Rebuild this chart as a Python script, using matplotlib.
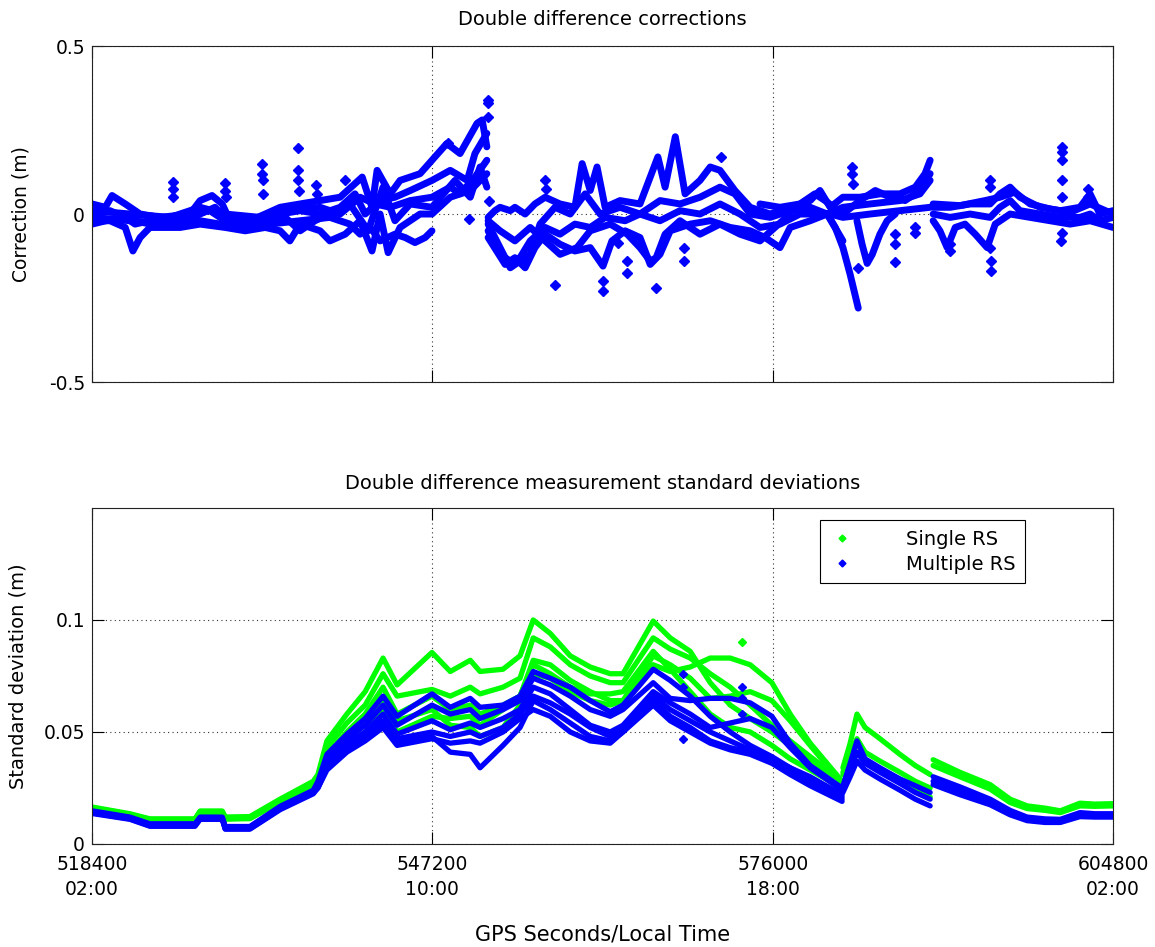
import numpy as np
import matplotlib
matplotlib.use("Agg")
import matplotlib.pyplot as plt
from matplotlib.lines import Line2D

plt.rcParams['font.family'] = ['DejaVu Sans']

GPS_START = 518400
XTICKS = [518400, 547200, 576000, 604800]
XTICK_LABELS = ["518400\n02:00", "547200\n10:00", "576000\n18:00", "604800\n02:00"]

# ---------------- Bottom panel data (hours of local time, metres) ----------------
H_A = [2.00, 2.89, 3.36, 4.42, 4.54, 5.06, 5.13, 5.71, 6.42, 7.20, 7.31, 7.52, 7.99, 8.42,
       8.84, 9.17, 9.99, 10.42, 10.89, 11.12, 11.66, 12.06, 12.37, 12.77, 13.24, 13.71,
       14.18, 14.48, 15.19, 15.59, 16.06, 16.53, 17.00, 17.47, 17.98, 18.41, 18.88, 19.63]

single_A1 = [0.0165, 0.0135, 0.0112, 0.0112, 0.0147, 0.0147, 0.0120, 0.0122, 0.0200, 0.0280,
             0.031, 0.046, 0.058, 0.068, 0.083, 0.071, 0.0855, 0.077, 0.082, 0.077, 0.078, 0.084,
             0.100, 0.094, 0.084, 0.079, 0.076, 0.076, 0.0995, 0.092, 0.086, 0.072, 0.062, 0.056,
             0.050, 0.044, 0.037, 0.028]
single_A2 = [0.0160, 0.0130, 0.0108, 0.0108, 0.0143, 0.0143, 0.0116, 0.0118, 0.0195, 0.0272,
             0.030, 0.043, 0.054, 0.062, 0.076, 0.066, 0.069, 0.066, 0.070, 0.067, 0.070, 0.074,
             0.092, 0.088, 0.080, 0.075, 0.072, 0.072, 0.092, 0.087, 0.083, 0.076, 0.070, 0.062,
             0.053, 0.046, 0.039, 0.028]
single_A3 = [0.0157, 0.0128, 0.0106, 0.0106, 0.0140, 0.0140, 0.0113, 0.0115, 0.0190, 0.0265,
             0.029, 0.040, 0.050, 0.058, 0.070, 0.058, 0.066, 0.060, 0.062, 0.058, 0.062, 0.066,
             0.082, 0.080, 0.073, 0.068, 0.064, 0.064, 0.080, 0.077, 0.079, 0.083, 0.083, 0.080,
             0.072, 0.058, 0.045, 0.028]
single_A4 = [0.0162, 0.0132, 0.0110, 0.0110, 0.0145, 0.0145, 0.0118, 0.0120, 0.0198, 0.0268,
             0.028, 0.038, 0.047, 0.054, 0.065, 0.055, 0.060, 0.053, 0.052, 0.048, 0.052, 0.062,
             0.076, 0.074, 0.068, 0.064, 0.062, 0.064, 0.084, 0.080, 0.074, 0.065, 0.066, 0.068,
             0.064, 0.055, 0.044, 0.027]
single_A5 = [0.0155, 0.0127, 0.0104, 0.0104, 0.0138, 0.0138, 0.0111, 0.0113, 0.0188, 0.0260,
             0.027, 0.036, 0.045, 0.050, 0.060, 0.050, 0.057, 0.056, 0.057, 0.053, 0.060, 0.066,
             0.080, 0.076, 0.070, 0.067, 0.067, 0.068, 0.086, 0.078, 0.068, 0.058, 0.052, 0.050,
             0.044, 0.038, 0.033, 0.025]

multi_A1 = [0.0148, 0.0120, 0.0090, 0.0090, 0.0120, 0.0120, 0.0078, 0.0078, 0.0168, 0.0240,
            0.028, 0.040, 0.049, 0.056, 0.066, 0.057, 0.067, 0.061, 0.065, 0.061, 0.062, 0.066,
            0.077, 0.074, 0.070, 0.064, 0.059, 0.062, 0.078, 0.073, 0.066, 0.057, 0.050, 0.044,
            0.039, 0.034, 0.030, 0.022]
multi_A2 = [0.0143, 0.0116, 0.0085, 0.0085, 0.0116, 0.0116, 0.0072, 0.0072, 0.0161, 0.0233,
            0.027, 0.038, 0.047, 0.053, 0.062, 0.053, 0.062, 0.058, 0.060, 0.056, 0.060, 0.064,
            0.074, 0.071, 0.066, 0.060, 0.057, 0.060, 0.072, 0.065, 0.064, 0.065, 0.065, 0.063,
            0.057, 0.045, 0.035, 0.025]
multi_A3 = [0.0139, 0.0112, 0.0081, 0.0081, 0.0112, 0.0112, 0.0068, 0.0068, 0.0156, 0.0228,
            0.026, 0.036, 0.045, 0.050, 0.058, 0.049, 0.055, 0.051, 0.054, 0.052, 0.056, 0.060,
            0.070, 0.067, 0.060, 0.053, 0.050, 0.053, 0.068, 0.063, 0.058, 0.052, 0.054, 0.056,
            0.052, 0.043, 0.034, 0.024]
multi_A4 = [0.0145, 0.0118, 0.0087, 0.0087, 0.0117, 0.0117, 0.0075, 0.0075, 0.0164, 0.0236,
            0.026, 0.035, 0.043, 0.048, 0.055, 0.047, 0.050, 0.048, 0.050, 0.048, 0.052, 0.058,
            0.066, 0.063, 0.058, 0.052, 0.048, 0.052, 0.066, 0.060, 0.055, 0.050, 0.046, 0.042,
            0.038, 0.034, 0.029, 0.021]
multi_A5 = [0.0136, 0.0110, 0.0079, 0.0079, 0.0110, 0.0110, 0.0066, 0.0066, 0.0153, 0.0224,
            0.025, 0.034, 0.042, 0.047, 0.053, 0.046, 0.048, 0.041, 0.040, 0.034, 0.044, 0.052,
            0.064, 0.060, 0.054, 0.048, 0.046, 0.050, 0.064, 0.057, 0.052, 0.046, 0.043, 0.041,
            0.037, 0.032, 0.027, 0.020]
multi_A6 = [0.0141, 0.0114, 0.0083, 0.0083, 0.0114, 0.0114, 0.0070, 0.0070, 0.0158, 0.0230,
            0.025, 0.033, 0.041, 0.046, 0.052, 0.044, 0.047, 0.045, 0.046, 0.045, 0.050, 0.056,
            0.060, 0.057, 0.050, 0.046, 0.045, 0.050, 0.062, 0.055, 0.050, 0.045, 0.042, 0.040,
            0.036, 0.031, 0.026, 0.019]

H_B = [19.65, 19.82, 19.98, 20.17, 20.52, 20.99, 21.35, 21.70]
single_B1 = [0.034, 0.045, 0.058, 0.052, 0.047, 0.040, 0.035, 0.031]
single_B2 = [0.032, 0.040, 0.047, 0.041, 0.037, 0.032, 0.028, 0.025]
single_B3 = [0.031, 0.036, 0.041, 0.037, 0.033, 0.029, 0.025, 0.021]
multi_B1 = [0.026, 0.036, 0.046, 0.038, 0.034, 0.029, 0.026, 0.023]
multi_B2 = [0.025, 0.033, 0.041, 0.036, 0.032, 0.027, 0.023, 0.020]
multi_B3 = [0.023, 0.030, 0.037, 0.033, 0.029, 0.024, 0.020, 0.017]

H_C = [21.77, 22.40, 23.11, 23.58, 23.98, 24.40, 24.76, 25.22, 25.57, 26.00]
single_C1 = [0.0376, 0.0320, 0.0265, 0.0200, 0.0170, 0.0160, 0.0148, 0.0182, 0.0178, 0.0180]
single_C2 = [0.0350, 0.0300, 0.0245, 0.0185, 0.0158, 0.0150, 0.0140, 0.0170, 0.0168, 0.0170]
multi_C1 = [0.0300, 0.0255, 0.0200, 0.0150, 0.0120, 0.0112, 0.0110, 0.0140, 0.0135, 0.0135]
multi_C2 = [0.0280, 0.0235, 0.0185, 0.0138, 0.0110, 0.0102, 0.0100, 0.0128, 0.0125, 0.0125]
multi_C3 = [0.0265, 0.0220, 0.0175, 0.0130, 0.0104, 0.0096, 0.0096, 0.0122, 0.0120, 0.0120]

single_out_h = [17.28]
single_out_y = [0.090]
multi_out_h = [15.89, 15.89, 15.90, 17.28, 17.28, 17.28]
multi_out_y = [0.0757, 0.070, 0.047, 0.070, 0.065, 0.058]

# ---------------- Top panel data (hours of local time, metres) ----------------
T1a_h = [2.00, 2.31, 2.47, 2.78, 3.13, 3.60, 4.30, 4.54, 4.82, 5.06, 5.24, 5.71, 6.07, 6.42,
         6.89, 7.36, 7.83, 8.35, 8.58, 8.70, 9.01, 9.24, 9.71, 10.34, 10.65, 11.05, 11.17, 11.28]
T1a_y = [0.03, 0.02, 0.055, 0.03, 0.0, -0.01, 0.0, 0.04, 0.055, 0.03, -0.02, -0.02, 0.0, 0.02,
         0.03, 0.04, 0.05, 0.11, 0.02, 0.13, 0.06, 0.10, 0.12, 0.21, 0.18, 0.27, 0.28, 0.20]
T1b_h = [2.00, 2.42, 2.78, 3.01, 3.36, 4.07, 4.54, 4.89, 5.13, 5.48, 5.95, 6.42, 6.89, 7.36,
         7.83, 8.18, 8.42, 8.77, 9.12, 9.48, 9.99, 10.42, 10.82, 11.00, 11.28]
T1b_y = [0.0, 0.01, -0.01, -0.03, -0.02, -0.02, 0.0, 0.02, -0.01, -0.03, -0.02, 0.0, 0.01, 0.0,
         0.02, 0.06, 0.0, 0.04, 0.05, 0.07, 0.10, 0.13, 0.10, 0.18, 0.24]
T1c_h = [2.00, 2.42, 2.78, 2.96, 3.13, 3.36, 4.07, 4.54, 5.13, 5.60, 6.07, 6.42, 6.65, 6.89,
         7.36, 7.59, 7.95, 8.30, 8.58, 8.77, 8.96, 9.24, 9.71, 9.99, 10.42, 10.89, 11.28]
T1c_y = [-0.02, -0.02, -0.04, -0.11, -0.07, -0.04, -0.04, -0.03, -0.04, -0.05, -0.04, -0.05,
         -0.08, -0.03, -0.05, -0.08, -0.06, -0.02, -0.11, 0.0, -0.115, -0.04, 0.0, 0.0, 0.05,
         0.07, 0.12]
T1d_h = [2.00, 2.89, 3.83, 4.54, 5.48, 6.18, 6.89, 7.59, 8.06, 8.30, 8.54, 8.77, 9.12, 9.36,
         9.59, 9.83, 9.99]
T1d_y = [-0.01, -0.02, -0.03, -0.02, -0.04, -0.03, -0.02, -0.01, -0.03, -0.06, -0.04, -0.08,
         -0.06, -0.07, -0.085, -0.07, -0.05]
T1e_h = [2.00, 2.89, 3.83, 4.54, 5.13, 5.95, 6.65, 7.36, 7.83, 8.30, 8.65, 9.01, 9.48, 9.99,
         10.42, 10.65, 11.00, 11.28]
T1e_y = [0.01, 0.0, -0.01, 0.02, 0.0, -0.01, 0.01, 0.02, 0.0, 0.05, 0.03, 0.02, 0.04, 0.05,
         0.08, 0.06, 0.11, 0.16]
T1f_h = [2.00, 2.66, 3.36, 4.07, 4.77, 5.36, 5.95, 6.54, 6.89, 7.24, 7.59, 8.06, 8.49, 8.84,
         9.12, 9.48, 9.99, 10.53, 10.89, 11.12, 11.28]
T1f_y = [-0.03, -0.01, -0.03, -0.01, 0.01, -0.04, -0.03, -0.01, -0.05, -0.02, 0.0, 0.03, -0.05,
         0.08, -0.02, 0.03, 0.02, 0.10, 0.05, 0.14, 0.08]

T2a_h = [11.31, 11.47, 11.59, 11.83, 11.94, 12.18, 12.41, 12.65, 13.00, 13.35, 13.52, 13.71,
         13.87, 14.06, 14.41, 14.88, 15.30, 15.47, 15.71, 15.94, 16.29, 16.53, 16.76, 17.11,
         17.47, 17.94, 18.41, 18.88, 19.11, 19.35, 19.65, 20.05, 20.52, 20.99, 21.35, 21.58, 21.70]
T2a_y = [-0.01, 0.01, 0.02, 0.01, 0.02, 0.0, 0.03, 0.05, 0.03, 0.02, 0.15, 0.07, 0.14, 0.02,
         0.04, 0.03, 0.17, 0.08, 0.23, 0.06, 0.10, 0.14, 0.13, 0.07, 0.02, 0.0, 0.02, 0.04,
         0.07, 0.02, 0.05, 0.05, 0.06, 0.06, 0.08, 0.12, 0.16]
T2b_h = [11.31, 11.59, 11.83, 12.06, 12.30, 12.53, 12.88, 13.24, 13.59, 13.94, 14.41, 14.88,
         15.35, 15.82, 16.29, 16.76, 17.11, 17.47, 17.94, 18.41, 18.88, 19.28, 19.65, 20.29,
         20.99, 21.46, 21.70]
T2b_y = [-0.03, -0.10, -0.16, -0.14, -0.12, -0.03, 0.02, 0.0, 0.06, 0.0, 0.02, 0.0, 0.04, 0.03,
         0.05, 0.08, 0.06, 0.0, -0.01, 0.01, 0.02, 0.0, 0.02, 0.03, 0.04, 0.06, 0.10]
T2c_h = [11.31, 11.59, 11.83, 12.06, 12.30, 12.65, 13.00, 13.35, 13.71, 14.06, 14.53, 14.88,
         15.35, 15.82, 16.29, 16.76, 17.23, 17.70, 18.17, 18.64, 19.35, 19.65, 20.29, 20.99, 21.70]
T2c_y = [-0.05, -0.12, -0.14, -0.13, -0.08, -0.04, -0.06, -0.03, -0.04, -0.01, -0.02, 0.0,
         -0.02, 0.01, 0.0, 0.03, 0.0, -0.04, -0.03, 0.0, 0.0, -0.01, 0.0, 0.01, 0.02]
T2d_h = [11.31, 11.71, 11.94, 12.18, 12.41, 12.65, 13.00, 13.35, 13.71, 14.01, 14.22, 14.53,
         14.88, 15.12, 15.35, 15.59, 16.06, 16.53, 17.00, 17.47, 17.82, 18.17, 18.41, 18.88,
         19.28, 19.65]
T2d_y = [-0.07, -0.15, -0.13, -0.16, -0.10, -0.06, -0.09, -0.11, -0.10, -0.155, -0.08, -0.05,
         -0.07, -0.15, -0.12, -0.05, -0.03, -0.02, -0.04, -0.05, -0.07, -0.10, -0.04, -0.02,
         0.0, -0.08]
T2e_h = [11.31, 11.59, 11.94, 12.30, 12.65, 13.00, 13.40, 13.71, 14.18, 14.58, 14.88, 15.12,
         15.26, 15.47, 15.82, 16.29, 16.76, 17.23, 17.70, 18.05, 18.41]
T2e_y = [-0.02, -0.05, -0.08, -0.04, -0.08, -0.12, -0.10, -0.05, -0.03, -0.06, -0.10, -0.14,
         -0.13, -0.06, -0.02, -0.06, -0.03, -0.06, -0.08, -0.04, 0.0]
T2h_h = [17.70, 18.17, 18.64, 18.99, 19.23, 19.65, 20.05, 20.41, 20.76, 21.11, 21.46, 21.70]
T2h_y = [0.03, 0.02, 0.03, 0.06, 0.04, 0.0, 0.04, 0.07, 0.05, 0.04, 0.07, 0.12]
T2f_h = [19.28, 19.47, 19.65, 19.82, 20.01]
T2f_y = [0.0, -0.04, -0.10, -0.18, -0.28]
T2g_h = [19.98, 20.10, 20.22, 20.34, 20.52, 20.69, 20.88]
T2g_y = [-0.02, -0.09, -0.147, -0.12, -0.06, -0.02, 0.0]

T3a_h = [21.77, 22.17, 22.64, 23.11, 23.34, 23.58, 23.81, 24.28, 24.76, 25.22, 25.46, 25.69, 26.00]
T3a_y = [0.02, 0.02, 0.03, 0.03, 0.06, 0.08, 0.05, 0.02, 0.01, 0.02, 0.06, 0.0, 0.01]
T3b_y = [0.0, -0.01, 0.0, -0.01, 0.02, 0.04, 0.01, 0.0, -0.01, -0.01, 0.0, -0.02, -0.01]
T3c_h = [21.77, 21.93, 22.10, 22.29, 22.52, 22.76, 23.04, 23.23, 23.58, 24.05, 24.52, 24.99,
         25.46, 26.00]
T3c_y = [-0.02, -0.05, -0.10, -0.04, -0.03, -0.06, -0.10, -0.03, 0.0, -0.01, -0.02, -0.03,
         -0.02, -0.04]
T3d_h = [21.77, 22.40, 22.99, 23.34, 23.69, 24.05, 24.52, 24.99, 25.46, 26.00]
T3d_y = [0.03, 0.025, 0.04, 0.05, 0.065, 0.03, 0.015, 0.005, 0.03, 0.0]

spike_h = [3.90, 3.90, 3.91, 5.13, 5.13, 5.14, 6.00, 6.00, 6.01, 6.02, 6.84, 6.84, 6.85, 6.86,
           7.27, 7.28, 7.95, 10.37, 11.31, 11.31, 11.31, 11.32, 10.86, 12.65, 12.66, 12.88,
           14.01, 14.01, 14.36, 14.58, 14.58, 15.26, 15.92, 15.92, 16.79, 19.87, 19.87, 19.88,
           20.01, 20.88, 20.88, 20.88, 21.35, 21.35, 22.17, 22.17, 23.11, 23.11, 23.11, 23.12,
           23.12, 24.80, 24.80, 24.80, 24.80, 24.81, 24.79, 24.78, 25.41, 25.41]
spike_y = [0.095, 0.075, 0.05, 0.092, 0.07, 0.05, 0.15, 0.12, 0.10, 0.06, 0.196, 0.13, 0.10,
           0.07, 0.085, 0.06, 0.10, 0.21, 0.34, 0.33, 0.29, 0.04, -0.015, 0.10, 0.075, -0.21,
           -0.20, -0.23, -0.085, -0.14, -0.175, -0.22, -0.10, -0.14, 0.17, 0.14, 0.12, 0.09,
           -0.16, -0.06, -0.09, -0.143, -0.04, -0.055, -0.09, -0.11, 0.10, 0.08, -0.10, -0.14,
           -0.17, 0.20, 0.185, 0.16, 0.10, 0.05, -0.055, -0.08, 0.075, 0.05]


def to_gps(hours):
    return GPS_START + (np.asarray(hours, dtype=float) - 2.0) * 3600.0


GREEN = '#00ff00'
BLUE = '#0000ff'

fig = plt.figure(figsize=(11.55, 9.47), dpi=100)
ax1 = fig.add_axes([0.0797, 0.5966, 0.884, 0.3548])
ax2 = fig.add_axes([0.0797, 0.1088, 0.884, 0.3548])

line_kw = dict(solid_capstyle='round', solid_joinstyle='round')

# ---- top panel ----
top_lines = [(T1a_h, T1a_y), (T1b_h, T1b_y), (T1c_h, T1c_y), (T1d_h, T1d_y), (T1e_h, T1e_y),
             (T1f_h, T1f_y), (T2a_h, T2a_y), (T2b_h, T2b_y), (T2c_h, T2c_y), (T2d_h, T2d_y),
             (T2e_h, T2e_y), (T2h_h, T2h_y), (T2f_h, T2f_y), (T2g_h, T2g_y),
             (T3a_h, T3a_y), (T3a_h, T3b_y), (T3c_h, T3c_y), (T3d_h, T3d_y)]
for hh, yy in top_lines:
    ax1.plot(to_gps(hh), yy, color=BLUE, lw=5.0, **line_kw)
ax1.plot(to_gps(spike_h), spike_y, ls='none', marker='D', ms=5, color=BLUE, mec=BLUE)

# ---- bottom panel ----
for yy in [single_A1, single_A2, single_A3, single_A4, single_A5]:
    ax2.plot(to_gps(H_A), yy, color=GREEN, lw=3.8, **line_kw)
for yy in [single_B1, single_B2, single_B3]:
    ax2.plot(to_gps(H_B), yy, color=GREEN, lw=3.8, **line_kw)
for yy in [single_C1, single_C2]:
    ax2.plot(to_gps(H_C), yy, color=GREEN, lw=3.8, **line_kw)
ax2.plot(to_gps(single_out_h), single_out_y, ls='none', marker='D', ms=4, color=GREEN)

for yy in [multi_A1, multi_A2, multi_A3, multi_A4, multi_A5, multi_A6]:
    ax2.plot(to_gps(H_A), yy, color=BLUE, lw=3.8, **line_kw)
for yy in [multi_B1, multi_B2, multi_B3]:
    ax2.plot(to_gps(H_B), yy, color=BLUE, lw=3.8, **line_kw)
for yy in [multi_C1, multi_C2, multi_C3]:
    ax2.plot(to_gps(H_C), yy, color=BLUE, lw=3.8, **line_kw)
ax2.plot(to_gps(multi_out_h), multi_out_y, ls='none', marker='D', ms=4, color=BLUE)

grid_kw = dict(color='k', linestyle=(0, (1, 3)), linewidth=0.8, alpha=0.8)

for ax in (ax1, ax2):
    ax.set_xlim(518400, 604800)
    ax.set_xticks(XTICKS)
    ax.tick_params(direction='in', top=True, right=True, length=8.5, width=0.8,
                   labelsize=13.5)
    ax.tick_params(axis='y', pad=5)
    ax.tick_params(axis='x', pad=8)
    ax.grid(True, **grid_kw)
    for s in ax.spines.values():
        s.set_linewidth(0.8)
        s.set_color('#222222')

ax1.set_ylim(-0.5, 0.5)
ax1.set_yticks([-0.5, 0, 0.5])
ax1.set_yticklabels(['-0.5', '0', '0.5'])
ax1.set_xticklabels([])
ax1.set_title('Double difference corrections', fontsize=14, pad=15)
ax1.set_ylabel('Correction (m)', fontsize=13.5)
ax1.yaxis.set_label_coords(-0.060, 0.5)

ax2.set_ylim(0, 0.15)
ax2.set_yticks([0, 0.05, 0.1])
ax2.set_yticklabels(['0', '0.05', '0.1'])
ax2.set_xticklabels(XTICK_LABELS, linespacing=1.4)
ax2.set_title('Double difference measurement standard deviations', fontsize=14, pad=14)
ax2.set_ylabel('Standard deviation (m)', fontsize=14)
ax2.yaxis.set_label_coords(-0.063, 0.5)
ax2.set_xlabel('GPS Seconds/Local Time', fontsize=15)
ax2.xaxis.set_label_coords(0.5, -0.24)

handles = [Line2D([], [], ls='none', marker='D', ms=3.5, color=GREEN),
           Line2D([], [], ls='none', marker='D', ms=3.5, color=BLUE)]
leg = ax2.legend(handles, ['Single RS', 'Multiple RS'], loc='upper right',
                 bbox_to_anchor=(0.914, 0.964), fontsize=14, fancybox=False,
                 framealpha=1, edgecolor='k', handlelength=1.2, handletextpad=2.7,
                 borderpad=0.5, labelspacing=0.3, borderaxespad=0)
leg.get_frame().set_linewidth(0.8)

fig.savefig('out.png', dpi=100)
